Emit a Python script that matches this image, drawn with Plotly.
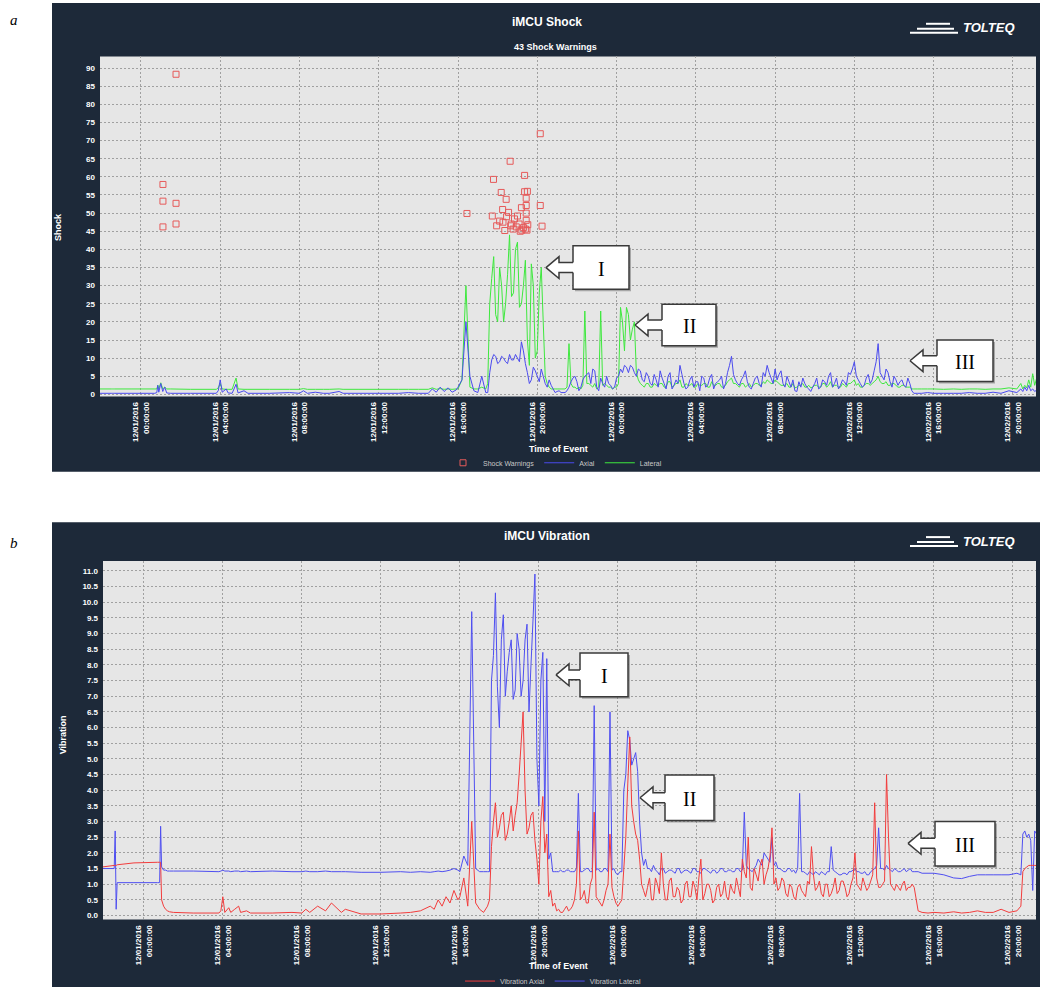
import pandas as pd
import plotly.graph_objects as go

W, H = 1040, 996
BASE = pd.Timestamp("2016-12-01 00:00:00")

# ---------------- sampling hours (relative to 12/01/2016 00:00) ----------------
hours_a = [-2.1, -1.5, -1.45, -1.4, -1.35, -0.5, 0.7, 0.8, 0.85, 0.9,
           1.0, 1.1, 1.2, 1.3, 1.5, 2.5, 3.8, 3.9, 4.0, 4.1,
           4.3, 4.4, 4.6, 4.8, 4.9, 5.2, 5.4, 6.5, 7.5, 8.0,
           8.2, 8.4, 8.8, 9.2, 9.5, 10.0, 10.2, 11.0, 12.0, 13.0,
           13.5, 14.0, 14.5, 14.7, 14.9, 15.1, 15.3, 15.5, 15.7, 15.9]
hours_b = [16.0, 16.2, 16.4, 16.6, 16.8, 17.0, 17.2, 17.4, 17.6, 17.8,
           18.0, 18.2, 18.4, 18.6, 18.8, 19.0, 19.2, 19.4, 19.6, 19.8,
           20.0, 20.2, 20.4, 20.6, 20.8, 21.0, 21.2, 21.4, 21.6, 21.8,
           22.0, 22.2, 22.4, 22.6, 22.8, 23.0, 23.2, 23.4, 23.6, 23.8,
           24.0, 24.2, 24.4, 24.6, 24.8, 25.0, 25.2, 25.4, 25.6, 25.8,
           26.0, 26.2, 26.4, 26.6, 26.8, 27.0, 27.2, 27.4, 27.6, 27.8,
           28.0, 28.2, 28.4, 28.6, 28.8, 29.0, 29.2, 29.4, 29.6, 29.8,
           30.0, 30.2, 30.4, 30.6, 30.8, 31.0, 31.2, 31.4, 31.6, 31.8,
           32.0, 32.2, 32.4, 32.6, 32.8, 33.0, 33.2, 33.4, 33.6, 33.8,
           34.0, 34.2, 34.4, 34.6, 34.8, 35.0, 35.2, 35.4, 35.6, 35.8,
           36.0, 36.2, 36.4, 36.6, 36.8, 37.0, 37.2, 37.4, 37.6, 37.8,
           38.0, 38.2, 38.4, 38.6, 38.8, 39.0]
hours_c = [39.2, 39.4, 39.7, 40.0, 40.5, 41.0, 41.4, 41.8, 42.2, 42.6,
           43.0, 43.4, 43.8, 44.2, 44.4, 44.5, 44.6, 44.7, 44.8, 44.9,
           45.0, 45.1, 45.2]
hours_x = [17.5, 17.7, 17.9, 18.1, 18.3, 18.5, 18.7, 18.9, 19.1, 19.3,
           19.5, 19.7, 19.9, 20.1, 20.3, 20.5, 20.7, 20.9, 21.1, 21.3,
           21.5, 21.7, 21.9, 22.1, 22.3, 22.5, 22.7, 22.9, 23.1, 23.3,
           23.5, 23.7, 23.9, 24.1, 24.3, 24.5, 24.7, 24.9, 25.1, 25.3,
           25.5, 25.7, 25.9, 26.1, 26.3, 26.5, 26.7, 26.9, 27.1, 27.3,
           27.5, 27.7, 27.9, 28.1, 28.3, 28.5, 28.7, 28.9, 29.1, 29.3,
           29.5, 29.7, 29.9, 30.1, 30.3, 30.5, 30.7, 30.9, 31.1, 31.3,
           31.5, 31.7, 31.9, 32.1, 32.3, 32.5, 32.7, 32.9, 33.1, 33.3,
           33.5, 33.7, 33.9, 34.1, 34.3, 34.5, 34.7, 34.9, 35.1, 35.3,
           35.5, 35.7, 35.9, 36.1, 36.3, 36.5, 36.7, 36.9, 37.1, 37.3,
           37.5, 37.7, 37.9, 38.1, 38.3, 38.5, 38.7, 38.9]

# ---------------- iMCU Shock ----------------
shock_axial_a = [0.3, 0.3, 0.3, 0.3, 0.3, 0.3, 0.3, 0.5, 2.5, 0.6,
                 3.0, 0.8, 2.0, 0.4, 0.3, 0.3, 0.3, 1.0, 4.0, 0.6,
                 1.5, 0.4, 0.3, 2.8, 0.4, 1.0, 0.3, 0.3, 0.5, 0.3,
                 1.0, 0.3, 0.6, 0.3, 0.3, 0.8, 0.3, 0.3, 0.3, 0.3,
                 0.5, 0.3, 0.3, 1.5, 0.6, 2.0, 0.8, 1.8, 0.6, 1.2]
shock_axial_b = [2.0, 4.0, 20.0, 5.0, 1.0, 0.5, 5.0, 0.5, 6.0, 11.0,
                 8.5, 10.5, 9.0, 11.0, 9.5, 10.0, 14.5, 8.5, 3.0, 7.5,
                 5.0, 7.0, 3.0, 4.0, 1.5, 0.8, 0.5, 0.5, 2.0, 4.5,
                 3.5, 2.0, 5.0, 6.0, 7.0, 2.0, 4.5, 2.0, 3.0, 1.5,
                 4.5, 7.0, 8.0, 6.0, 7.5, 5.0, 6.5, 3.5, 5.0, 2.5,
                 4.0, 6.5, 3.0, 5.0, 1.5, 4.0, 8.0, 3.0, 2.0, 5.0,
                 3.5, 1.0, 4.5, 2.5, 5.5, 3.0, 4.0, 1.5, 6.0, 10.5,
                 4.0, 2.5, 5.0, 3.5, 1.5, 4.5, 3.0, 6.0, 8.0, 4.5,
                 7.0, 5.5, 3.0, 5.0, 2.0, 1.0, 3.5, 4.5, 2.0, 0.8,
                 3.0, 1.5, 4.0, 2.5, 6.0, 3.0, 1.5, 4.0, 2.5, 5.5,
                 9.0, 4.0, 2.0, 4.5, 3.0, 6.5, 14.0, 5.0, 7.0, 3.5,
                 5.0, 2.5, 4.0, 2.0, 3.0, 0.3]
shock_axial_c = [0.3, 0.3, 0.5, 0.3, 0.3, 0.3, 0.3, 0.5, 0.3, 0.3,
                 0.6, 0.3, 1.0, 0.5, 1.5, 0.8, 2.0, 1.0, 2.5, 1.0,
                 1.5, 0.8, 1.2]
shock_axial_x = [0.5, 9.5, 10.5, 9.0, 10.0, 8.5, 9.5, 11.0, 9.0, 12.0,
                 6.0, 4.0, 6.5, 3.5, 5.0, 2.0, 2.5, 0.5, 1.0, 0.5,
                 1.0, 3.5, 5.0, 1.0, 4.0, 5.5, 3.0, 6.5, 1.0, 3.0,
                 5.0, 2.5, 2.0, 5.0, 6.0, 7.5, 8.0, 6.0, 7.0, 4.0,
                 6.0, 3.0, 5.5, 2.0, 4.5, 1.5, 6.0, 2.5, 3.0, 5.5,
                 1.5, 4.0, 2.0, 3.5, 5.0, 2.0, 4.5, 1.5, 3.5, 5.0,
                 3.0, 8.0, 5.5, 3.0, 4.0, 6.5, 2.0, 3.0, 5.0, 2.0,
                 5.0, 6.0, 3.0, 4.0, 6.5, 2.0, 3.5, 4.0, 0.8, 2.0,
                 3.0, 1.5, 2.0, 4.5, 2.0, 3.5, 5.0, 2.0, 4.5, 2.5,
                 3.5, 6.0, 7.0, 5.0, 3.0, 2.5, 5.5, 4.0, 9.0, 6.0,
                 4.0, 6.0, 2.0, 4.0, 3.5, 2.5, 4.5, 1.0]

shock_lateral_a = [1.5, 1.5, 1.5, 1.5, 1.5, 1.5, 1.5, 1.5, 2.5, 1.5,
                   3.2, 1.5, 2.0, 1.5, 1.5, 1.4, 1.4, 1.8, 3.0, 1.5,
                   1.4, 1.4, 1.4, 4.5, 1.5, 1.4, 1.4, 1.4, 1.4, 1.4,
                   1.6, 1.4, 1.4, 1.4, 1.4, 1.5, 1.4, 1.4, 1.4, 1.4,
                   1.4, 1.4, 1.4, 1.8, 1.4, 1.6, 1.4, 1.5, 1.4, 1.5]
shock_lateral_b = [1.5, 4.0, 30.0, 2.0, 1.5, 1.5, 2.0, 1.5, 25.0, 38.0,
                   20.0, 30.0, 25.0, 44.0, 28.0, 42.0, 25.0, 37.0, 8.0, 30.0,
                   12.0, 35.0, 5.0, 2.0, 1.5, 1.5, 1.5, 1.5, 14.0, 2.0,
                   1.5, 1.5, 23.0, 3.0, 2.0, 1.5, 23.0, 3.0, 2.0, 1.5,
                   2.0, 24.0, 12.0, 22.0, 18.0, 6.0, 3.0, 2.0, 3.0, 2.0,
                   2.5, 3.0, 2.0, 3.5, 2.0, 3.0, 4.0, 2.0, 2.5, 3.0,
                   2.0, 2.5, 3.0, 2.0, 3.5, 2.5, 3.0, 2.0, 3.5, 4.5,
                   3.0, 2.0, 3.0, 2.5, 2.0, 3.0, 2.5, 3.5, 4.0, 3.0,
                   4.0, 3.0, 2.5, 3.0, 2.0, 1.8, 2.5, 3.0, 2.0, 1.8,
                   2.5, 2.0, 3.0, 2.0, 3.5, 2.5, 2.0, 3.0, 2.0, 3.0,
                   4.0, 3.0, 2.0, 3.0, 2.5, 3.5, 5.0, 3.0, 3.5, 2.5,
                   3.0, 2.0, 2.5, 2.0, 2.0, 1.5]
shock_lateral_c = [1.5, 1.5, 1.5, 1.5, 1.4, 1.5, 1.4, 1.5, 1.5, 1.4,
                   1.5, 1.5, 1.8, 1.5, 3.0, 1.5, 2.5, 1.8, 4.0, 2.0,
                   5.7, 2.5, 4.5]
shock_lateral_x = [3.0, 32.0, 22.0, 35.0, 20.0, 33.0, 27.0, 40.0, 24.0, 30.0,
                   15.0, 36.0, 10.0, 28.0, 20.0, 3.0, 1.5, 1.5, 1.5, 1.5,
                   2.0, 3.0, 2.0, 2.0, 2.5, 3.0, 2.5, 3.0, 2.0, 2.5,
                   2.5, 2.0, 2.0, 3.0, 20.0, 24.0, 15.0, 20.0, 4.0, 2.5,
                   3.0, 2.0, 3.0, 2.5, 3.0, 2.0, 3.5, 2.5, 3.0, 2.0,
                   3.0, 2.5, 2.0, 3.0, 2.5, 3.0, 2.0, 2.5, 3.0, 2.0,
                   2.5, 4.0, 3.0, 2.5, 3.0, 2.0, 3.0, 2.5, 3.0, 2.5,
                   3.0, 3.5, 3.0, 3.5, 2.5, 2.5, 2.0, 3.0, 2.0, 2.5,
                   2.0, 2.5, 2.0, 2.5, 2.0, 3.0, 2.5, 2.0, 2.5, 2.0,
                   2.5, 3.0, 3.5, 2.5, 2.0, 2.5, 3.0, 3.0, 4.0, 3.5,
                   3.0, 2.5, 3.0, 2.5, 2.0, 2.5, 2.0, 1.5]

warning_hours = [1.11, 1.11, 1.11, 1.77, 1.77, 1.77,
                 16.45, 17.73, 17.79, 17.95, 18.10, 18.18, 18.25, 18.27, 18.36, 18.43,
                 18.45, 18.55, 18.63, 18.66, 18.69, 18.78, 18.85, 18.94, 19.00, 19.08,
                 19.14, 19.22, 19.30, 19.36, 19.36, 19.40, 19.44, 19.44, 19.44, 19.44,
                 19.48, 19.50, 19.52, 20.15, 20.15, 20.24, 19.20]
warning_values = [57.9, 53.3, 46.2, 88.3, 52.7, 47.0,
                  49.9, 49.2, 59.3, 46.5, 47.8, 55.7, 51.0, 47.5, 45.2, 53.8,
                  49.0, 50.2, 64.3, 46.5, 47.0, 45.6, 48.4, 46.2, 49.2, 47.0,
                  45.0, 45.3, 46.0, 60.4, 55.9, 45.6, 54.1, 52.1, 50.0, 48.0,
                  45.3, 56.0, 46.8, 71.9, 52.1, 46.4, 51.5]

# ---------------- iMCU Vibration ----------------
vib_lateral_a = [1.5, 1.5, 2.7, 0.2, 1.05, 1.05, 1.05, 1.05, 2.85, 1.55,
                 1.45, 1.45, 1.42, 1.42, 1.42, 1.42, 1.4, 1.42, 1.45, 1.42,
                 1.42, 1.4, 1.42, 1.42, 1.4, 1.42, 1.4, 1.42, 1.4, 1.4,
                 1.42, 1.4, 1.4, 1.42, 1.4, 1.4, 1.4, 1.38, 1.38, 1.4,
                 1.38, 1.4, 1.38, 1.4, 1.42, 1.4, 1.42, 1.45, 1.5, 1.45]
vib_lateral_b = [1.4, 1.9, 1.6, 9.7, 1.5, 1.4, 1.4, 1.4, 7.5, 10.3,
                 6.0, 9.6, 7.8, 8.8, 7.2, 8.5, 7.5, 9.3, 8.0, 10.9,
                 3.5, 8.4, 8.2, 2.0, 1.4, 1.4, 1.4, 1.45, 1.4, 1.4,
                 3.9, 1.4, 1.5, 1.4, 6.7, 1.5, 1.4, 1.5, 6.5, 1.5,
                 1.3, 1.4, 4.5, 5.6, 5.0, 4.6, 2.0, 1.8, 1.5, 1.6,
                 1.4, 1.5, 1.35, 1.45, 1.4, 1.5, 1.35, 1.45, 1.4, 1.5,
                 1.4, 1.35, 1.5, 1.4, 1.45, 1.35, 1.5, 1.4, 1.45, 1.4,
                 1.5, 1.4, 3.3, 1.5, 1.4, 1.6, 1.7, 2.0, 1.8, 2.5,
                 1.7, 1.5, 1.4, 1.5, 1.4, 1.35, 3.9, 1.4, 1.3, 1.35,
                 1.4, 1.3, 1.35, 1.4, 2.2, 1.4, 1.3, 1.35, 1.3, 1.4,
                 1.5, 1.4, 1.35, 1.3, 1.4, 1.5, 2.8, 1.5, 1.6, 1.45,
                 1.5, 1.4, 1.45, 1.4, 1.5, 1.4]
vib_lateral_c = [1.4, 1.35, 1.35, 1.35, 1.3, 1.2, 1.18, 1.25, 1.3, 1.3,
                 1.3, 1.3, 1.3, 1.35, 1.3, 2.6, 2.7, 2.5, 2.6, 2.4,
                 0.8, 2.7, 2.6]
vib_lateral_x = [1.4, 8.3, 7.3, 8.8, 7.0, 8.4, 6.9, 9.0, 7.0, 8.8,
                 6.5, 9.4, 5.0, 7.5, 3.0, 1.8, 1.4, 1.4, 1.45, 1.4,
                 1.45, 1.4, 1.5, 1.4, 1.45, 1.5, 1.4, 1.45, 1.4, 1.5,
                 1.4, 1.45, 1.35, 1.4, 4.0, 5.9, 4.8, 5.2, 3.0, 1.6,
                 1.5, 1.4, 1.45, 1.3, 1.5, 1.4, 1.45, 1.35, 1.5, 1.4,
                 1.45, 1.35, 1.5, 1.4, 1.5, 1.45, 1.35, 1.45, 1.4, 1.5,
                 1.4, 1.45, 1.4, 1.5, 1.45, 1.6, 1.45, 1.5, 1.8, 1.6,
                 1.9, 1.7, 1.6, 1.5, 1.45, 1.4, 1.5, 1.45, 1.5, 1.4,
                 1.35, 1.4, 1.3, 1.35, 1.4, 1.3, 1.4, 1.45, 1.35, 1.3,
                 1.35, 1.4, 1.45, 1.4, 1.35, 1.4, 1.3, 1.45, 1.6, 1.5,
                 1.45, 1.5, 1.4, 1.45, 1.4, 1.5, 1.45, 1.4]

vib_axial_a = [1.55, 1.6, 1.6, 1.6, 1.62, 1.68, 1.7, 1.7, 1.7, 0.5,
               0.3, 0.2, 0.15, 0.12, 0.1, 0.08, 0.08, 0.15, 0.6, 0.1,
               0.25, 0.1, 0.2, 0.3, 0.1, 0.15, 0.08, 0.08, 0.1, 0.08,
               0.2, 0.1, 0.3, 0.15, 0.4, 0.1, 0.2, 0.05, 0.05, 0.08,
               0.1, 0.15, 0.3, 0.2, 0.5, 0.3, 0.6, 0.4, 0.8, 0.5]
vib_axial_b = [0.6, 1.2, 0.3, 3.0, 0.4, 0.2, 0.1, 0.3, 2.2, 3.6,
               2.8, 3.3, 2.6, 3.5, 3.2, 4.5, 6.5, 2.6, 3.2, 2.4,
               1.0, 3.8, 2.6, 0.8, 0.4, 0.2, 0.1, 0.3, 0.2, 0.5,
               2.7, 0.6, 0.4, 1.0, 3.3, 0.5, 0.3, 0.8, 2.6, 0.6,
               0.3, 0.5, 2.5, 5.7, 3.0, 2.4, 1.0, 0.6, 1.2, 0.5,
               1.0, 2.0, 0.5, 1.1, 0.6, 0.9, 0.4, 1.0, 0.6, 1.1,
               0.5, 1.8, 0.7, 1.0, 0.4, 0.9, 0.6, 1.1, 0.5, 0.8,
               1.2, 0.6, 1.4, 2.5, 0.8, 1.3, 1.6, 1.0, 1.5, 2.8,
               1.2, 0.9, 1.1, 0.6, 0.9, 0.5, 1.0, 0.7, 1.1, 2.2,
               0.8, 1.1, 0.6, 1.0, 0.7, 1.2, 0.8, 1.1, 0.6, 1.0,
               2.0, 0.9, 1.2, 0.8, 1.1, 3.6, 0.9, 1.0, 4.5, 1.0,
               0.8, 0.9, 1.0, 0.8, 0.9, 0.9]
vib_axial_c = [0.15, 0.1, 0.08, 0.1, 0.08, 0.12, 0.08, 0.1, 0.15, 0.1,
               0.1, 0.2, 0.1, 0.15, 0.3, 1.4, 1.5, 1.55, 1.6, 1.6,
               1.6, 1.6, 1.6]
vib_axial_x = [0.5, 3.0, 2.5, 3.2, 2.4, 3.0, 2.7, 3.6, 5.5, 4.0,
               2.8, 3.3, 1.8, 3.0, 2.0, 0.6, 0.3, 0.15, 0.1, 0.2,
               0.15, 0.3, 1.0, 0.5, 0.8, 0.4, 1.2, 0.6, 0.4, 0.5,
               1.0, 0.9, 0.4, 0.4, 1.5, 4.2, 3.5, 2.6, 1.8, 0.8,
               0.9, 0.5, 1.2, 0.7, 1.0, 0.5, 1.2, 0.6, 0.8, 0.5,
               1.1, 0.6, 0.9, 1.2, 0.5, 1.0, 0.8, 0.5, 1.0, 0.7,
               0.6, 1.0, 0.7, 0.9, 1.8, 1.2, 0.9, 1.5, 1.1, 1.8,
               1.3, 1.9, 1.0, 0.8, 1.2, 0.7, 1.0, 0.6, 0.9, 0.8,
               0.6, 1.0, 1.3, 0.9, 0.7, 1.0, 0.6, 0.9, 0.7, 1.1,
               0.9, 0.7, 1.2, 1.0, 0.8, 1.0, 0.9, 1.3, 1.2, 0.9,
               1.1, 2.5, 0.9, 1.0, 0.8, 1.1, 0.9, 1.0]

# ---------------- assembly (merge the sample sets in time order) ----------------
df = pd.DataFrame({
    "h": hours_a + hours_b + hours_c + hours_x,
    "shock_axial": shock_axial_a + shock_axial_b + shock_axial_c + shock_axial_x,
    "shock_lateral": shock_lateral_a + shock_lateral_b + shock_lateral_c + shock_lateral_x,
    "vib_axial": vib_axial_a + vib_axial_b + vib_axial_c + vib_axial_x,
    "vib_lateral": vib_lateral_a + vib_lateral_b + vib_lateral_c + vib_lateral_x,
}).sort_values("h", kind="stable")
times = BASE + pd.to_timedelta(df["h"], unit="h")
warn_times = BASE + pd.to_timedelta(warning_hours, unit="h")

DARK = "#1d2939"
PLOTBG = "#e6e6e6"
GRID = "#a0a0a0"
FONT = "Liberation Sans Narrow, Liberation Sans, Arial, sans-serif"
X_RANGE = ["2016-11-30 21:56:00", "2016-12-02 21:10:00"]


def px(x):
    return x / W


def py(y):
    return 1 - y / H


fig = go.Figure()

# Shock panel
fig.add_trace(go.Scatter(x=times, y=df["shock_lateral"], mode="lines", name="Lateral",
                         line=dict(color="#3ee83e", width=1, simplify=False), xaxis="x", yaxis="y",
                         legend="legend", legendrank=3))
fig.add_trace(go.Scatter(x=times, y=df["shock_axial"], mode="lines", name="Axial",
                         line=dict(color="#4a4aee", width=1, simplify=False), xaxis="x", yaxis="y",
                         legend="legend", legendrank=2))
fig.add_trace(go.Scatter(x=warn_times, y=warning_values, mode="markers", name="Shock Warnings",
                         marker=dict(symbol="square-open", size=6, color="#e65a5a", line=dict(width=1)),
                         xaxis="x", yaxis="y", legend="legend", legendrank=1))

# Vibration panel
fig.add_trace(go.Scatter(x=times, y=df["vib_lateral"], mode="lines", name="Vibration Lateral",
                         line=dict(color="#4f4ff0", width=1, simplify=False), xaxis="x2", yaxis="y2",
                         legend="legend2", legendrank=2))
fig.add_trace(go.Scatter(x=times, y=df["vib_axial"], mode="lines", name="Vibration Axial",
                         line=dict(color="#f23c3c", width=1, simplify=False), xaxis="x2", yaxis="y2",
                         legend="legend2", legendrank=1))

xcommon = dict(type="date", range=X_RANGE, tick0="2016-12-01 00:00:00", dtick=14400000,
               tickformat="%m/%d/%Y<br>%H:%M:%S", tickangle=-90,
               tickfont=dict(family=FONT, size=8, color="white", weight="bold"),
               showgrid=True, gridcolor=GRID, griddash="2px,2px", gridwidth=1,
               zeroline=False, showline=False, ticks="", automargin=False,
               ticklabelstandoff=3, fixedrange=True)
ycommon = dict(showgrid=True, gridcolor=GRID, griddash="2px,2px", gridwidth=1,
               zeroline=False, showline=False, ticks="", automargin=False,
               tickfont=dict(family=FONT, size=8, color="white", weight="bold"),
               ticklabelstandoff=4, fixedrange=True)

shapes = [
    dict(type="rect", xref="paper", yref="paper", x0=px(52), x1=px(1040), y0=py(476), y1=py(3),
         fillcolor=DARK, line=dict(width=0), layer="below"),
    dict(type="rect", xref="paper", yref="paper", x0=px(52), x1=px(1040), y0=py(996), y1=py(527),
         fillcolor=DARK, line=dict(width=0), layer="below"),
    dict(type="rect", xref="paper", yref="paper", x0=px(100), x1=px(1036), y0=py(400), y1=py(57),
         fillcolor=PLOTBG, line=dict(width=0), layer="below"),
    dict(type="rect", xref="paper", yref="paper", x0=px(103), x1=px(1036), y0=py(928), y1=py(566),
         fillcolor=PLOTBG, line=dict(width=0), layer="below"),
]

annotations = []


def text(x, y, s, size, color="white", angle=0, family=FONT, xanchor="center"):
    annotations.append(dict(x=px(x), y=py(y), xref="paper", yref="paper", text=s, showarrow=False,
                            textangle=angle, xanchor=xanchor, yanchor="middle",
                            font=dict(family=family, size=size, color=color)))


# titles and labels
text(547, 22, "<b>iMCU Shock</b>", 12)
text(555, 47, "<b>43 Shock Warnings</b>", 9)
text(558, 453, "<b>Time of Event</b>", 9)
text(58, 229, "<b>Shock</b>", 9, angle=-90)
text(547, 541, "<b>iMCU Vibration</b>", 12)
text(558, 975, "<b>Time of Event</b>", 9)
text(63, 742, "<b>Vibration</b>", 9, angle=-90)
text(14, 20, "<i>a</i>", 15, color="black", family="Liberation Serif, serif")
text(14, 548, "<i>b</i>", 15, color="black", family="Liberation Serif, serif")

# logos
for dy in (0, 518):
    text(989, 28 + dy, "<b><i>TOLTEQ</i></b>", 13)
    for (xa, xb, yy) in ((926, 950, 24), (917, 954, 29), (910, 958, 33)):
        shapes.append(dict(type="line", xref="paper", yref="paper", x0=px(xa), x1=px(xb),
                           y0=py(yy + dy), y1=py(yy + dy), line=dict(color="white", width=2)))


def callout(tip, cy, bx0, bx1, by0, by1, label):
    hx = tip + 13
    shapes.append(dict(type="rect", xref="paper", yref="paper", x0=px(bx0 + 2), x1=px(bx1 + 2),
                       y0=py(by1 + 2), y1=py(by0 + 2), fillcolor="rgba(90,90,90,0.45)",
                       line=dict(width=0)))
    shapes.append(dict(type="rect", xref="paper", yref="paper", x0=px(bx0), x1=px(bx1),
                       y0=py(by1), y1=py(by0), fillcolor="white", line=dict(color="#3a3a3a", width=1.5)))
    fill = "M {},{} L {},{} L {},{} L {},{} L {},{} L {},{} L {},{} Z".format(
        px(tip), py(cy), px(hx), py(cy - 11), px(hx), py(cy - 5), px(bx0 + 2), py(cy - 5),
        px(bx0 + 2), py(cy + 5), px(hx), py(cy + 5), px(hx), py(cy + 11))
    shapes.append(dict(type="path", xref="paper", yref="paper", path=fill, fillcolor="white",
                       line=dict(width=0)))
    outline = "M {},{} L {},{} L {},{} L {},{} M {},{} L {},{} L {},{} L {},{}".format(
        px(bx0), py(cy - 5), px(hx), py(cy - 5), px(hx), py(cy - 11), px(tip), py(cy),
        px(tip), py(cy), px(hx), py(cy + 11), px(hx), py(cy + 5), px(bx0), py(cy + 5))
    shapes.append(dict(type="path", xref="paper", yref="paper", path=outline,
                       line=dict(color="#3a3a3a", width=1.5)))
    text((bx0 + bx1) / 2, (by0 + by1) / 2 + 1, label, 20, color="black",
         family="Liberation Serif, DejaVu Serif, serif")


callout(546, 270, 573, 629, 248, 292, "I")
callout(635, 328, 662, 716, 307, 349, "II")
callout(910, 364, 937, 993, 343, 385, "III")
callout(556, 681, 580, 628, 659, 703, "I")
callout(640, 805, 665, 714, 782, 828, "II")
callout(908, 851, 935, 995, 829, 874, "III")

legend_common = dict(orientation="h", xanchor="center", yanchor="middle", bgcolor="rgba(0,0,0,0)",
                     font=dict(family=FONT, size=7, color="#c8c8c8"), itemwidth=30,
                     tracegroupgap=0, itemclick=False, itemdoubleclick=False)

fig.update_layout(
    width=W, height=H, autosize=False,
    margin=dict(l=0, r=0, t=0, b=0),
    paper_bgcolor="white", plot_bgcolor="rgba(0,0,0,0)",
    xaxis=dict(domain=[px(100), px(1036)], anchor="y", **xcommon),
    yaxis=dict(domain=[py(400), py(57)], anchor="x", range=[-0.55, 93.2], tick0=0, dtick=5, **ycommon),
    xaxis2=dict(domain=[px(103), px(1036)], anchor="y2", **xcommon),
    yaxis2=dict(domain=[py(928), py(566)], anchor="x2", range=[-0.13, 11.32], tick0=0, dtick=0.5,
                tickformat=".1f", **ycommon),
    legend=dict(x=px(555), y=py(467), **legend_common),
    legend2=dict(x=px(553), y=py(990), **legend_common),
    shapes=shapes, annotations=annotations,
    showlegend=True, hovermode=False,
)

fig.write_html("out.html", config={"displayModeBar": False},
               post_script="document.body.style.margin='0';document.body.style.overflow='hidden';")
